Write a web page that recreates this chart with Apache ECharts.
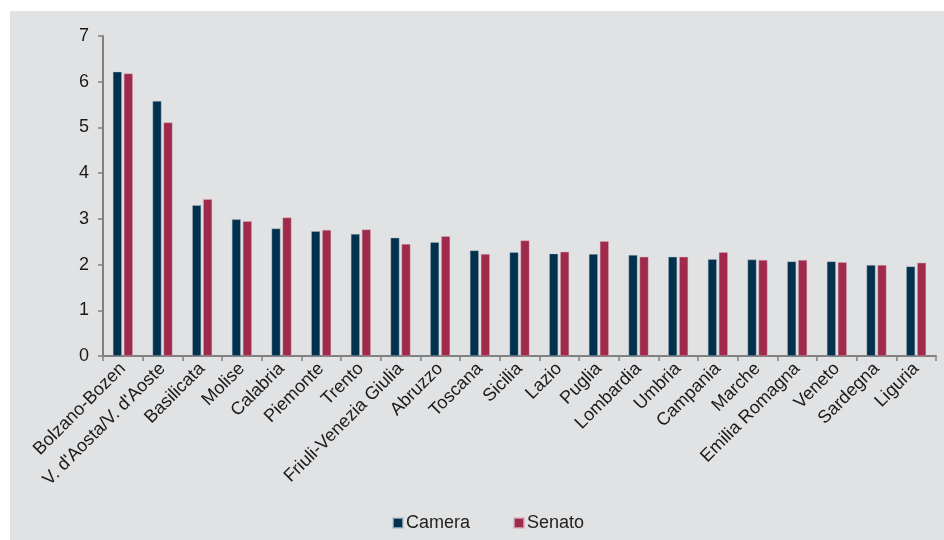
<!DOCTYPE html>
<html>
<head>
<meta charset="utf-8">
<script src="https://cdn.jsdelivr.net/npm/echarts@6/dist/echarts.min.js"></script>
<style>
  html, body { margin: 0; padding: 0; background: #ffffff; }
  #wrap { position: relative; width: 944px; height: 540px; background: #ffffff; overflow: hidden; }
  #chart { position: absolute; left: 10px; top: 11px; width: 934px; height: 529px; background: #e1e2e4; }
</style>
</head>
<body>
<div id="wrap"><div id="chart"></div></div>
<script>
const categories = ["Bolzano-Bozen", "V. d'Aosta/V. d'Aoste", "Basilicata", "Molise", "Calabria", "Piemonte", "Trento", "Friuli-Venezia Giulia", "Abruzzo", "Toscana", "Sicilia", "Lazio", "Puglia", "Lombardia", "Umbria", "Campania", "Marche", "Emilia Romagna", "Veneto", "Sardegna", "Liguria"];
const camera = [6.22, 5.58, 3.30, 2.99, 2.79, 2.73, 2.67, 2.59, 2.49, 2.31, 2.27, 2.24, 2.23, 2.21, 2.17, 2.12, 2.11, 2.07, 2.07, 1.99, 1.96];
const senato = [6.18, 5.11, 3.43, 2.95, 3.03, 2.76, 2.77, 2.45, 2.62, 2.23, 2.53, 2.28, 2.51, 2.17, 2.17, 2.27, 2.10, 2.10, 2.05, 1.99, 2.04];
const yTicks = [0, 1, 2, 3, 4, 5, 6, 7];

const chart = echarts.init(document.getElementById('chart'), null, { renderer: 'canvas' });
const font = 'Arial, "Liberation Sans", sans-serif';
chart.setOption({
  backgroundColor: 'transparent',
  animation: false,
  textStyle: { fontFamily: font },
  grid: { left: 93, top: 25, width: 833, height: 320, containLabel: false },
  legend: {
    left: 377, top: 498,
    itemWidth: 10, itemHeight: 10, itemGap: 43,
    icon: 'rect',
    textStyle: { fontSize: 18, color: '#222222', fontFamily: font, padding: [0, 0, 0, -2] },
    data: ['Camera', 'Senato']
  },
  xAxis: {
    type: 'category',
    data: categories,
    boundaryGap: true,
    axisLine: { lineStyle: { color: '#808080', width: 2 } },
    axisTick: { show: true, length: 5, alignWithLabel: false, lineStyle: { color: '#808080', width: 1.5 } },
    axisLabel: { interval: 0, rotate: 45, fontSize: 18, color: '#1a1a1a', margin: 10, fontFamily: font }
  },
  yAxis: {
    type: 'value',
    min: yTicks[0], max: yTicks[yTicks.length - 1], interval: 1,
    splitLine: { show: false },
    axisLine: { show: true, lineStyle: { color: '#808080', width: 2 } },
    axisTick: { show: true, length: 5, lineStyle: { color: '#808080', width: 1.5 } },
    axisLabel: { fontSize: 18, color: '#1a1a1a', margin: 14, fontFamily: font }
  },
  series: [
    { name: 'Camera', type: 'bar', data: camera, barWidth: 9, barGap: '22%',
      itemStyle: { color: '#01314c', borderColor: 'rgba(180,195,205,0.7)', borderWidth: 0.6 } },
    { name: 'Senato', type: 'bar', data: senato, barWidth: 9,
      itemStyle: { color: '#9f2a4b', borderColor: 'rgba(220,180,190,0.7)', borderWidth: 0.6 } }
  ]
});
</script>
</body>
</html>
